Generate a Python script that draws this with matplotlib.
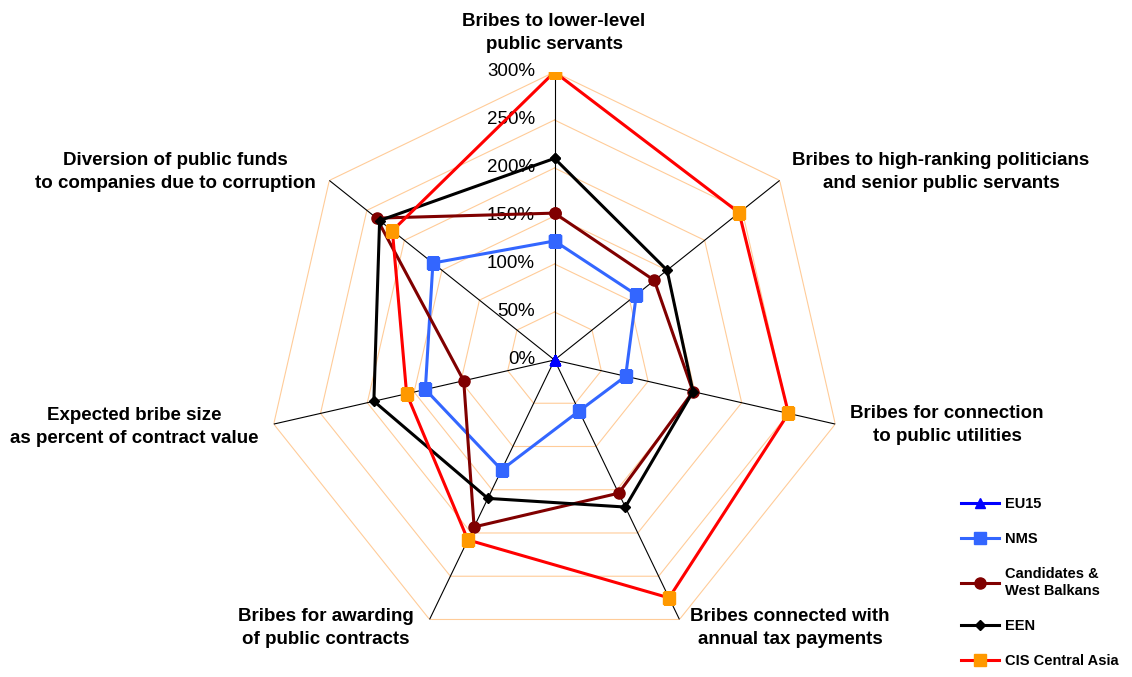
import numpy as np
import matplotlib.pyplot as plt

plt.rcParams['font.family'] = ['Liberation Sans', 'DejaVu Sans']

# axes of the radar, clockwise from the top
categories = [
    "Bribes to lower-level\npublic servants",
    "Bribes to high-ranking politicians\nand senior public servants",
    "Bribes for connection\nto public utilities",
    "Bribes connected with\nannual tax payments",
    "Bribes for awarding\nof public contracts",
    "Expected bribe size\nas percent of contract value",
    "Diversion of public funds\nto companies due to corruption",
]

# values in percent (EU15 = reference)
eu15 = [0, 0, 0, 0, 0, 0, 0]
nms = [124, 109, 76, 59, 127, 138, 162]
candidates = [153, 133, 148, 154, 193, 97, 237]
een = [210, 150, 148, 170, 160, 193, 233]
cis = [300, 246, 250, 275, 208, 158, 216]

series_names = ["EU15", "NMS", "Candidates &\nWest Balkans", "EEN", "CIS Central Asia"]
tick_values = [0, 50, 100, 150, 200, 250, 300]

# label anchor positions in pixels (x, y from top)
label_pos = [(554, 33), (941, 172), (947, 425), (790, 628),
             (326, 628), (134, 427), (175, 172)]

W, H = 1132, 677
fig = plt.figure(figsize=(W / 100, H / 100), dpi=100)
cx, cy, R = 554.5, 360, 288
ax = fig.add_axes([(cx - R) / W, (H - cy - R) / H, 2 * R / W, 2 * R / H], projection='polar')
ax.set_theta_offset(np.pi / 2)
ax.set_theta_direction(-1)
ax.set_ylim(0, 300)
ax.grid(False)
ax.spines['polar'].set_visible(False)
ax.set_xticks([])
ax.set_yticks([])
ax.patch.set_alpha(0)

n = len(categories)
angles = np.linspace(0, 2 * np.pi, n, endpoint=False)
closed = np.append(angles, angles[0])

# polygon grid
for v in tick_values[1:]:
    ax.plot(closed, [v] * (n + 1), color='#FFCC99', lw=0.8, zorder=1)
# spokes
for a in angles:
    ax.plot([a, a], [0, 300], color='black', lw=0.8, zorder=2)

# radial tick labels
for v in tick_values:
    ax.annotate(f"{v}%", xy=(0, v), xytext=(-14, 0), textcoords='offset points',
                ha='right', va='center', fontsize=13.5, zorder=3)

styles = [
    dict(color='#0000FF', marker='^', ms=7, mfc='#0000FF', mec='#0000FF'),
    dict(color='#3366FF', marker='s', ms=8, mfc='#3366FF', mec='#3366FF'),
    dict(color='#800000', marker='o', ms=8, mfc='#800000', mec='#800000'),
    dict(color='black', marker='D', ms=5, mfc='black', mec='black'),
    dict(color='#FF0000', marker='s', ms=8, mfc='#FF9900', mec='#FF9900'),
]
data = [eu15, nms, candidates, een, cis]
handles = []
for i, (vals, st, name) in enumerate(zip(data, styles, series_names)):
    h, = ax.plot(closed, vals + vals[:1], lw=2.2, label=name, zorder=5 + i, **st)
    handles.append(h)
# EU15 marker on top
ax.plot(closed, eu15 + eu15[:1], lw=0, marker='^', ms=7, color='#0000FF', zorder=20)

for text, (x, y) in zip(categories, label_pos):
    fig.text(x / W, 1 - y / H, text, ha='center', va='center', fontsize=13.5,
             fontweight='bold', linespacing=1.45)

fig.legend(handles=handles, labels=series_names, loc='upper left',
           bbox_to_anchor=(948 / W, 1 - 484 / H), frameon=False,
           prop={'weight': 'bold', 'size': 10.5}, handlelength=2.6,
           handletextpad=0.4, labelspacing=1.45)

fig.savefig('out.png', dpi=100)
